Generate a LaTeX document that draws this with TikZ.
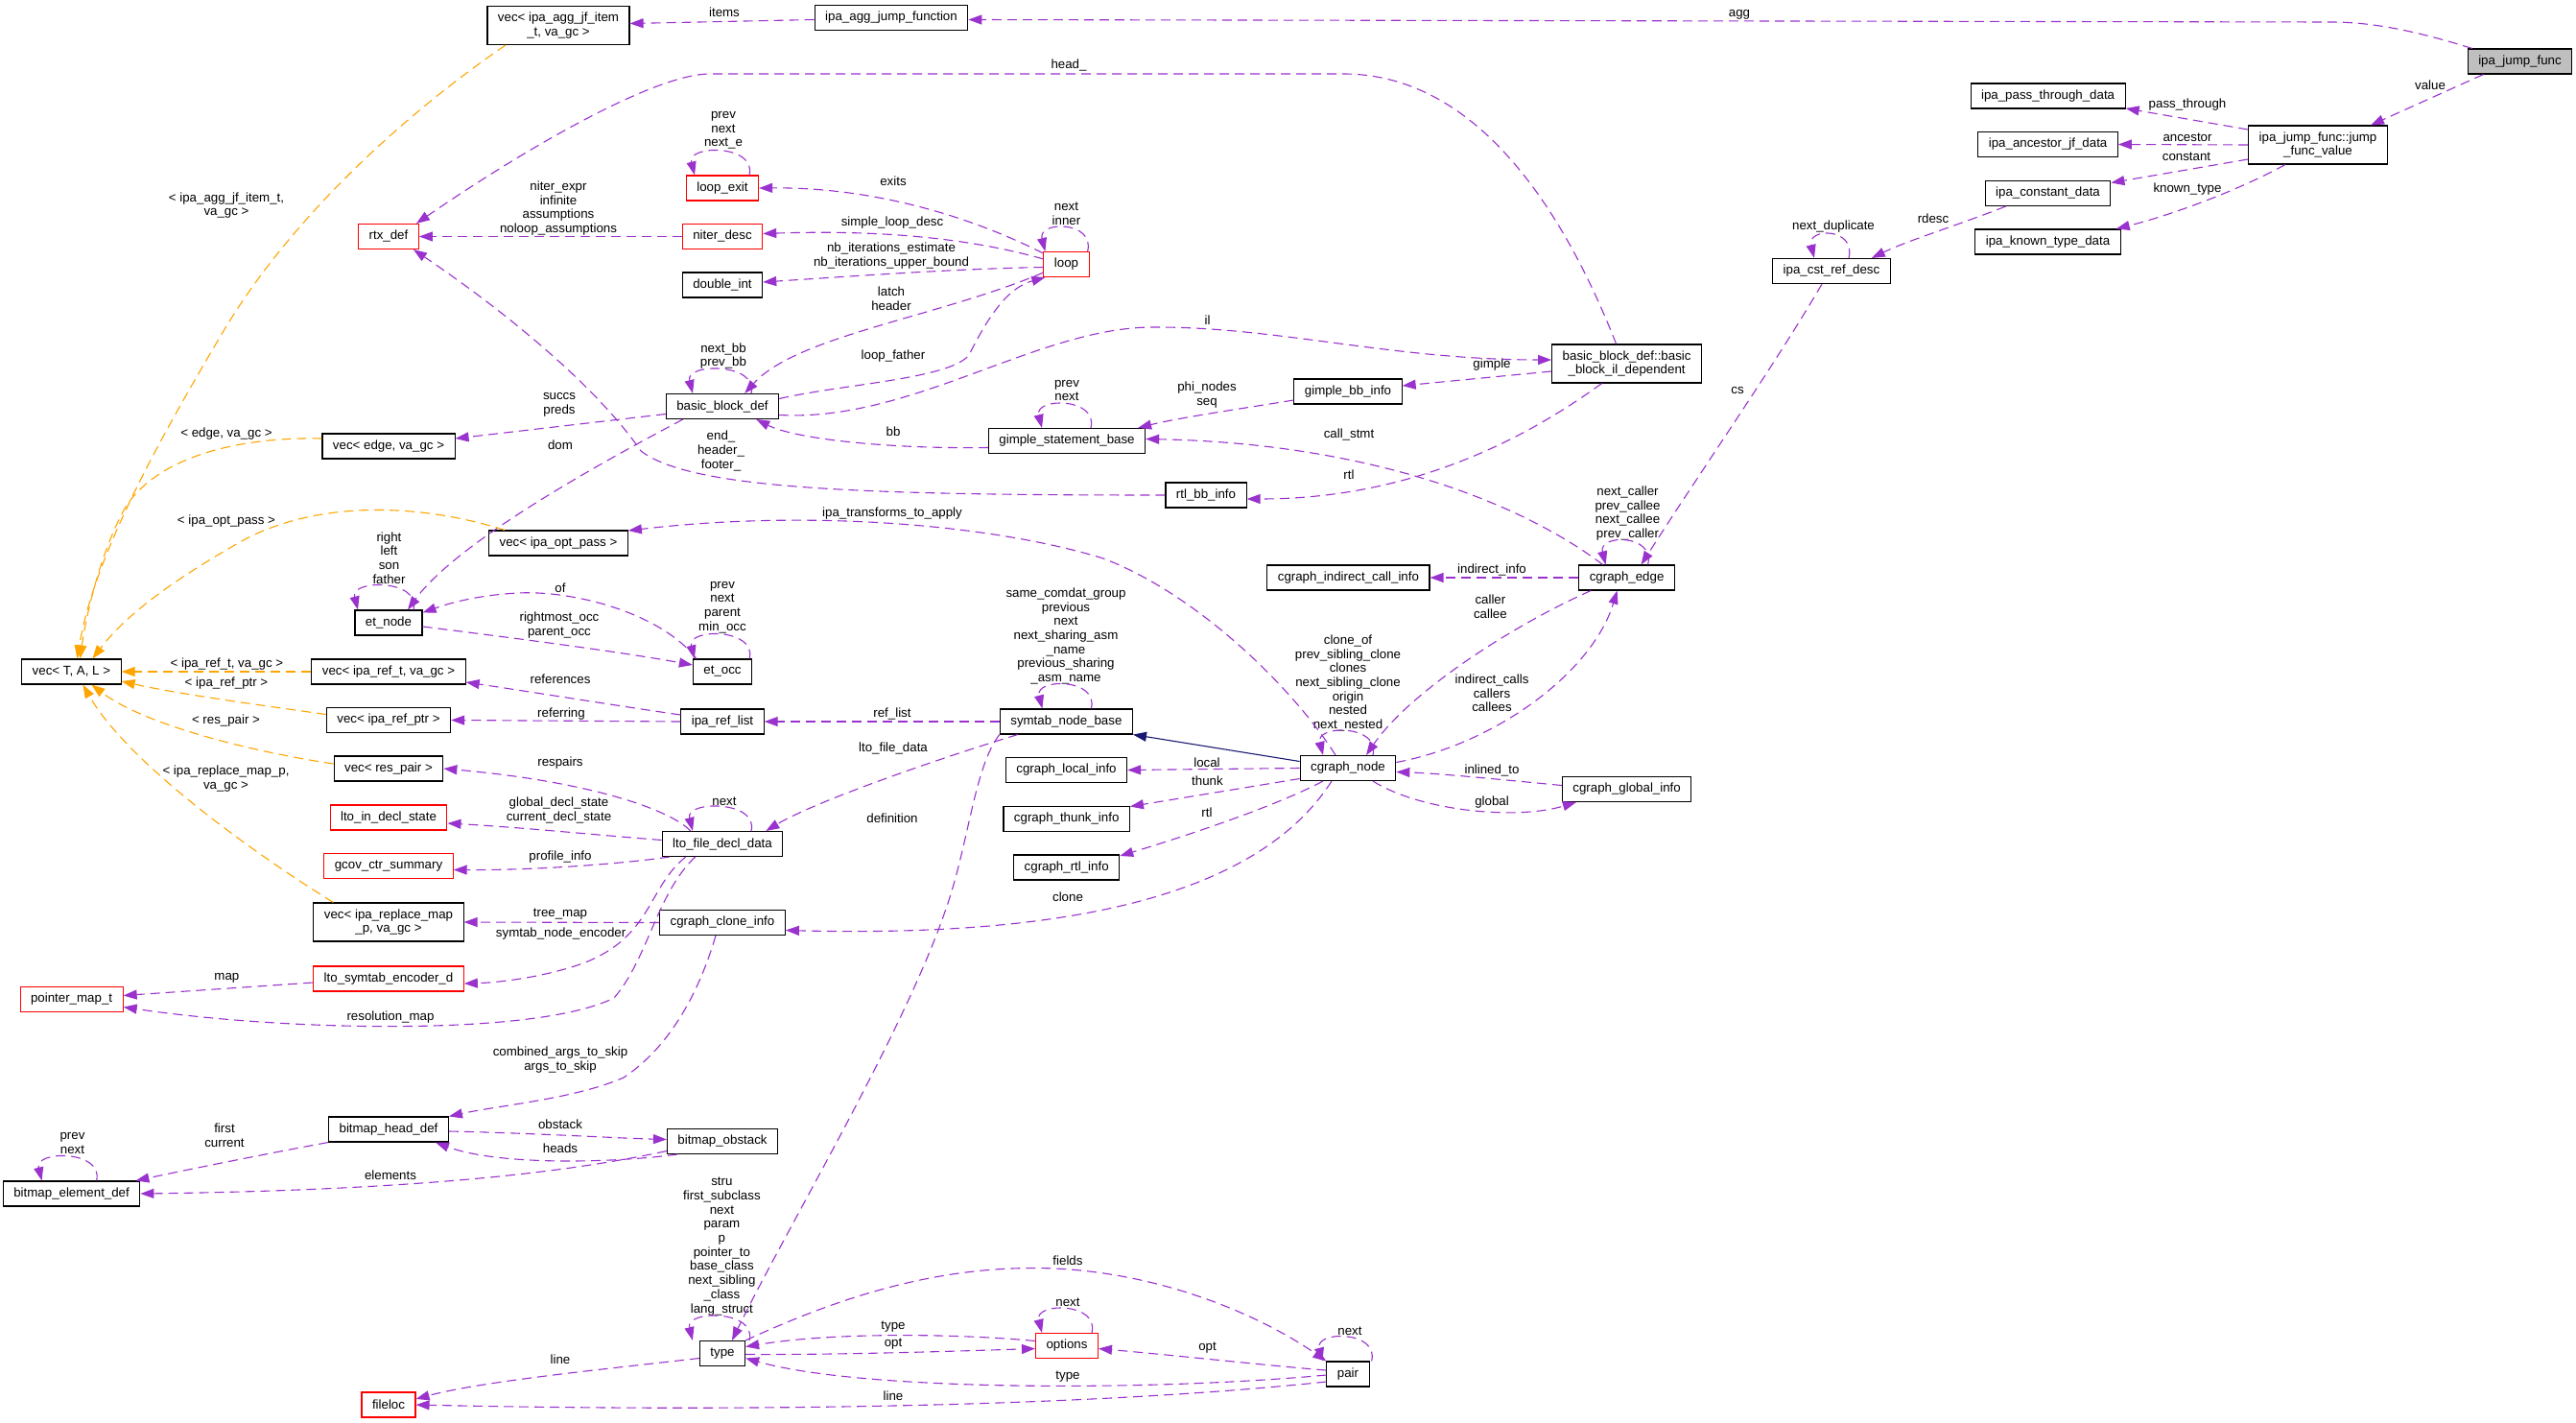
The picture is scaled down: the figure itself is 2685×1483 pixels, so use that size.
\documentclass[tikz,border=0pt]{standalone}
\usepackage{fontspec}
\setmainfont{Liberation Sans}
\usetikzlibrary{arrows.meta}
\definecolor{usecol}{RGB}{154,50,205}
\definecolor{tplcol}{RGB}{255,165,0}
\definecolor{inhcol}{RGB}{25,25,112}
\definecolor{focuscol}{RGB}{191,191,191}

\begin{document}
\begin{tikzpicture}[x=1pt,y=-1pt,>={Triangle[length=14pt,width=10pt]},
  font=\fontsize{13.3}{14.7}\selectfont,
  cls/.style={draw=black,fill=white,line width=1.1pt,minimum height=26pt,
    inner xsep=11pt,inner ysep=3pt,align=center},
  cls2/.style={cls,minimum height=40pt},
  nodoc/.style={cls,draw=red},
  focus/.style={cls,fill=focuscol},
  lbl/.style={inner sep=0pt,align=center},
  uses/.style={->,draw=usecol,line width=1.1pt,dash pattern=on 10pt off 6pt},
  tpl/.style={uses,draw=tplcol},
  inh/.style={->,draw=inhcol,line width=1.1pt}]
\useasboundingbox (0,0) rectangle (2685,1483);
% ---------- classes ----------
\node[focus] (ajf) at (2626.5,64) {ipa\_jump\_func};
\node[cls] (aggjf) at (929,18.5) {ipa\_agg\_jump\_function};
\node[cls2] (vagg) at (582,26.5) {vec< ipa\_agg\_jf\_item\\\_t, va\_gc >};
\node[cls] (vtal) at (74.4,700) {vec< T, A, L >};
\node[cls2] (jfv) at (2416,151) {ipa\_jump\_func::jump\\\_func\_value};
\node[cls] (ptd) at (2134.6,100) {ipa\_pass\_through\_data};
\node[cls] (ajd) at (2134.6,150.5) {ipa\_ancestor\_jf\_data};
\node[cls] (icd) at (2134.5,201.5) {ipa\_constant\_data};
\node[cls] (ktd) at (2134.5,252) {ipa\_known\_type\_data};
\node[cls] (crd) at (1909,282.5) {ipa\_cst\_ref\_desc};
\node[cls2] (bbil) at (1695.6,379) {basic\_block\_def::basic\\\_block\_il\_dependent};
\node[cls] (gbi) at (1405,408) {gimple\_bb\_info};
\node[cls] (rbi) at (1257,516) {rtl\_bb\_info};
\node[cls] (cicall) at (1405.4,602) {cgraph\_indirect\_call\_info};
\node[cls] (cedge) at (1695.6,602) {cgraph\_edge};
\node[cls] (cnode) at (1405,800.5) {cgraph\_node};
\node[cls] (cglob) at (1695.6,822.5) {cgraph\_global\_info};
\node[cls] (snb) at (1111.4,752) {symtab\_node\_base};
\node[cls] (cloc) at (1111.5,802.5) {cgraph\_local\_info};
\node[cls] (cthk) at (1111.7,853.5) {cgraph\_thunk\_info};
\node[cls] (crtl) at (1111.7,904) {cgraph\_rtl\_info};
\node[nodoc] (loop) at (1111.5,275.5) {loop};
\node[cls] (gsb) at (1112,459.5) {gimple\_statement\_base};
\node[nodoc] (lexit) at (753,196) {loop\_exit};
\node[nodoc] (ndesc) at (753,246.5) {niter\_desc};
\node[cls] (dint) at (753,297) {double\_int};
\node[cls] (bbd) at (753,423.5) {basic\_block\_def};
\node[cls] (etocc) at (753,700) {et\_occ};
\node[cls] (rlist) at (753,752) {ipa\_ref\_list};
\node[cls] (lfdd) at (753,879.5) {lto\_file\_decl\_data};
\node[cls] (ccinfo) at (753,961.5) {cgraph\_clone\_info};
\node[cls] (bobs) at (753,1189.5) {bitmap\_obstack};
\node[cls] (type) at (753,1410.5) {type};
\node[nodoc] (opts) at (1112,1402.5) {options};
\node[cls] (pair) at (1405,1432) {pair};
\node[nodoc] (rtx) at (405,246.5) {rtx\_def};
\node[cls] (vedge) at (405,465) {vec< edge, va\_gc >};
\node[cls] (vopt) at (582,566) {vec< ipa\_opt\_pass >};
\node[cls] (etnode) at (405,649) {et\_node};
\node[cls] (vref) at (405,700) {vec< ipa\_ref\_t, va\_gc >};
\node[cls] (vrptr) at (405,750.5) {vec< ipa\_ref\_ptr >};
\node[cls] (vres) at (405,801) {vec< res\_pair >};
\node[nodoc] (lidecl) at (405,852) {lto\_in\_decl\_state};
\node[nodoc] (gcov) at (405,902.5) {gcov\_ctr\_summary};
\node[cls2] (vrmap) at (405,961) {vec< ipa\_replace\_map\\\_p, va\_gc >};
\node[nodoc] (lsenc) at (405,1020) {lto\_symtab\_encoder\_d};
\node[nodoc] (pmap) at (74.6,1041.5) {pointer\_map\_t};
\node[cls] (bhead) at (405,1177) {bitmap\_head\_def};
\node[cls] (belem) at (74.6,1244) {bitmap\_element\_def};
\node[nodoc] (floc) at (405,1464) {fileloc};
% ---------- member labels ----------
\node[lbl] (lagg) at (1813,15) {agg};
\node[lbl] (litems) at (755,13) {items};
\node[lbl] (lvalue) at (2533,89) {value};
\node[lbl] (lpass) at (2280,109) {pass\_through};
\node[lbl] (lanc) at (2280,143) {ancestor};
\node[lbl] (lconst) at (2279,163) {constant};
\node[lbl] (lknown) at (2280,197) {known\_type};
\node[lbl] (lrdesc) at (2015,228) {rdesc};
\node[lbl] (ldup) at (1911,236) {next\_duplicate};
\node[lbl] (lcs) at (1811,407) {cs};
\node[lbl] (lhead) at (1114,68) {head\_};
\node[lbl] (ltagg) at (236,214) {< ipa\_agg\_jf\_item\_t,\\va\_gc >};
\node[lbl] (lexitl) at (754,136) {prev\\next\\next\_e};
\node[lbl] (lexits) at (931,189) {exits};
\node[lbl] (lsld) at (930,232) {simple\_loop\_desc};
\node[lbl] (lnbit) at (929,266.5) {nb\_iterations\_estimate\\nb\_iterations\_upper\_bound};
\node[lbl] (lloopl) at (1111.5,223) {next\\inner};
\node[lbl] (lniter) at (582,217) {niter\_expr\\infinite\\assumptions\\noloop\_assumptions};
\node[lbl] (llatch) at (929,311) {latch\\header};
\node[lbl] (lil) at (1258.5,334) {il};
\node[lbl] (lfather) at (931,371) {loop\_father};
\node[lbl] (lbbl) at (754,371) {next\_bb\\prev\_bb};
\node[lbl] (lgimple) at (1555,380) {gimple};
\node[lbl] (lgsbl) at (1112,407) {prev\\next};
\node[lbl] (lphi) at (1258,411.5) {phi\_nodes\\seq};
\node[lbl] (lsuccs) at (583,422) {succs\\preds};
\node[lbl] (ltedge) at (236,452) {< edge, va\_gc >};
\node[lbl] (lbb) at (931,450) {bb};
\node[lbl] (lcall) at (1406,453) {call\_stmt};
\node[lbl] (ldom) at (584,464) {dom};
\node[lbl] (lend) at (751.5,470) {end\_\\header\_\\footer\_};
\node[lbl] (lrtl) at (1406,495) {rtl};
\node[lbl] (lipat) at (930,535) {ipa\_transforms\_to\_apply};
\node[lbl] (ledgel) at (1696.5,535) {next\_caller\\prev\_callee\\next\_callee\\prev\_caller};
\node[lbl] (ltopt) at (236,543) {< ipa\_opt\_pass >};
\node[lbl] (letl) at (405.5,581.5) {right\\left\\son\\father};
\node[lbl] (lind) at (1555,594) {indirect\_info};
\node[lbl] (lof) at (584,613) {of};
\node[lbl] (lcaller) at (1553.4,632.5) {caller\\callee};
\node[lbl] (loccl) at (753,633) {prev\\next\\parent\\min\_occ};
\node[lbl] (lrmost) at (583,651.5) {rightmost\_occ\\parent\_occ};
\node[lbl] (lsnbl) at (1111,663) {same\_comdat\_group\\previous\\next\\next\_sharing\_asm\\\_name\\previous\_sharing\\\_asm\_name};
\node[lbl] (ltref) at (236.4,692) {< ipa\_ref\_t, va\_gc >};
\node[lbl] (lrefs) at (584,708) {references};
\node[lbl] (ltptr) at (236,712) {< ipa\_ref\_ptr >};
\node[lbl] (lcnodel) at (1405,712) {clone\_of\\prev\_sibling\_clone\\clones\\next\_sibling\_clone\\origin\\nested\\next\_nested};
\node[lbl] (lcalls) at (1555,722.5) {indirect\_calls\\callers\\callees};
\node[lbl] (lreferring) at (585,744) {referring};
\node[lbl] (lreflist) at (930,744) {ref\_list};
\node[lbl] (ltres) at (235.5,751) {< res\_pair >};
\node[lbl] (llto) at (931,780) {lto\_file\_data};
\node[lbl] (lresp) at (584,795) {respairs};
\node[lbl] (llocal) at (1258,795) {local};
\node[lbl] (linl) at (1555,803) {inlined\_to};
\node[lbl] (ltrmap) at (235.5,811.5) {< ipa\_replace\_map\_p,\\va\_gc >};
\node[lbl] (lthunk) at (1258.5,814) {thunk};
\node[lbl] (lfdl) at (755,835) {next};
\node[lbl] (lglobal) at (1555,836) {global};
\node[lbl] (ldecl) at (582.5,844.5) {global\_decl\_state\\current\_decl\_state};
\node[lbl] (lrtl2) at (1258,847) {rtl};
\node[lbl] (ldef) at (930,853) {definition};
\node[lbl] (lprof) at (584,893) {profile\_info};
\node[lbl] (lclone) at (1113,935) {clone};
\node[lbl] (ltree) at (584,953) {tree\_map};
\node[lbl] (lenc) at (584.6,973) {symtab\_node\_encoder};
\node[lbl] (lmap) at (236.4,1019) {map};
\node[lbl] (lres) at (407,1060) {resolution\_map};
\node[lbl] (lskip) at (584,1104.5) {combined\_args\_to\_skip\\args\_to\_skip};
\node[lbl] (lobst) at (584,1172) {obstack};
\node[lbl] (lfirst) at (234,1183.5) {first\\current};
\node[lbl] (lbel) at (75.5,1191.5) {prev\\next};
\node[lbl] (lheads) at (584,1197) {heads};
\node[lbl] (lelems) at (407,1225) {elements};
\node[lbl] (ltypel) at (752.4,1299) {stru\\first\_subclass\\next\\param\\p\\pointer\_to\\base\_class\\next\_sibling\\\_class\\lang\_struct};
\node[lbl] (lfields) at (1113,1314) {fields};
\node[lbl] (loptl) at (1113,1357) {next};
\node[lbl] (ltype1) at (931,1383) {type};
\node[lbl] (lopt1) at (931,1401) {opt};
\node[lbl] (lopt2) at (1258.5,1405) {opt};
\node[lbl] (lpairl) at (1407,1387) {next};
\node[lbl] (lline1) at (584,1417) {line};
\node[lbl] (ltype2) at (1113,1435) {type};
\node[lbl] (lline2) at (931,1455) {line};
% ---------- jump function ----------
\draw[uses] ([xshift=5pt]ajf.north west) .. controls (2530,36) and (2480,23) .. (2430,23) -- ([yshift=-2pt]aggjf.east);
\draw[uses] ([yshift=-2pt]aggjf.west) -- ([yshift=2pt]vagg.east);
\draw[tpl] ([xshift=-55pt]vagg.south) .. controls (420,120) and (300,230) .. (230,350) .. controls (165,460) and (98,580) .. ([xshift=6pt]vtal.north);
\draw[uses] ([xshift=-38pt]ajf.south) -- ([xshift=55pt]jfv.north);
\draw[uses] ([yshift=16pt]jfv.west) -- ([yshift=-13pt]ptd.east);
\draw[uses] (jfv.west) -- (ajd.east);
\draw[uses] ([yshift=-15pt]jfv.west) -- ([yshift=11pt]icd.east);
\draw[uses] ([xshift=-34pt]jfv.south) .. controls (2330,200) and (2260,225) .. ([xshift=-5pt]ktd.north east);
\draw[uses] ([xshift=22pt]icd.south west) .. controls (2040,235) and (1990,250) .. ([xshift=-20pt]crd.north east);
\draw[uses] ([xshift=18pt]crd.north) .. controls +(8,-32) and +(-8,-32) .. ([xshift=-18pt]crd.north);
\draw[uses] ([xshift=-10pt]crd.south) .. controls (1850,380) and (1780,480) .. ([xshift=15pt]cedge.north);
% ---------- basic blocks and loops ----------
\draw[uses] ([xshift=-11pt]bbil.north) .. controls (1630,220) and (1540,77) .. (1400,77) -- (740,77) .. controls (680,77) and (540,160) .. ([xshift=-3pt]rtx.north east);
\draw[uses] ([yshift=-9pt]bbd.east) .. controls (950,440) and (1080,342) .. (1200,341) .. controls (1330,340) and (1450,375) .. ([yshift=4pt]bbil.west);
\draw[uses] ([yshift=-8pt]bbil.west) -- ([yshift=6pt]gbi.east);
\draw[uses] ([xshift=-26pt]bbil.south) .. controls (1600,450) and (1480,520) .. ([yshift=-4pt]rbi.east);
\draw[uses] ([yshift=-9pt]gbi.west) .. controls (1300,425) and (1230,435) .. ([xshift=-8pt]gsb.north east);
\draw[uses] ([xshift=-25pt]cedge.north) .. controls (1580,520) and (1420,462) .. ([yshift=2pt]gsb.east);
\draw[uses] ([yshift=-7pt]gsb.west) .. controls (930,468) and (830,458) .. ([xshift=-24pt]bbd.south east);
\draw[uses] ([xshift=25pt]gsb.north) .. controls +(8,-32) and +(-8,-32) .. ([xshift=-26pt]gsb.north);
\draw[uses] ([xshift=30pt]bbd.north) .. controls +(8,-32) and +(-8,-32) .. ([xshift=-31pt]bbd.north);
\draw[uses] ([yshift=8pt]bbd.east) .. controls (880,400) and (990,395) .. (1010,370) .. controls (1030,330) and (1050,300) .. ([xshift=2pt]loop.south west);
\draw[uses] ([yshift=5pt]loop.south west) .. controls (980,330) and (830,350) .. ([xshift=-36pt]bbd.north east);
\draw[uses] ([yshift=-2pt]loop.north west) .. controls (1000,220) and (900,195) .. (lexit.east);
\draw[uses] ([yshift=-8pt]loop.north west) .. controls (1000,245) and (900,240) .. ([yshift=3pt]ndesc.east);
\draw[uses] ([yshift=-3pt]loop.west) .. controls (1000,280) and (900,287) .. ([yshift=3pt]dint.east);
\draw[uses] ([xshift=-2pt]loop.north east) .. controls +(8,-32) and +(-8,-32) .. ([xshift=2pt]loop.north west);
\draw[uses] ([xshift=28pt]lexit.north) .. controls +(8,-32) and +(-8,-32) .. ([xshift=-29pt]lexit.north);
\draw[uses] (ndesc.west) -- (rtx.east);
\draw[uses] (rbi.west) .. controls (900,516) and (720,510) .. (668,470) .. controls (620,400) and (520,320) .. ([xshift=-6pt]rtx.south east);
\draw[uses] ([yshift=-8pt]bbd.west) -- ([yshift=8pt]vedge.east);
\draw[uses] ([xshift=18pt]bbd.south west) .. controls (650,470) and (480,560) .. ([xshift=20pt]etnode.north);
% ---------- vec templates ----------
\draw[tpl] ([yshift=8pt]vedge.west) .. controls (240,455) and (160,480) .. (130,530) .. controls (105,575) and (90,640) .. ([xshift=9pt]vtal.north);
\draw[tpl] ([xshift=17pt]vopt.north west) .. controls (440,525) and (330,520) .. (250,565) .. controls (180,605) and (132,640) .. ([xshift=22pt]vtal.north);
\draw[tpl] (vref.west) -- (vtal.east);
\draw[tpl] ([yshift=6pt]vrptr.west) .. controls (250,732) and (180,722) .. ([yshift=-10pt]vtal.east);
\draw[tpl] ([yshift=5pt]vres.west) .. controls (260,783) and (150,755) .. ([xshift=21pt]vtal.south);
\draw[tpl] ([xshift=21pt]vrmap.north west) .. controls (250,880) and (130,790) .. ([xshift=12pt]vtal.south);
% ---------- et tree ----------
\draw[uses] ([xshift=26pt]etnode.north) .. controls +(8,-32) and +(-8,-32) .. ([xshift=-32pt]etnode.north);
\draw[uses] ([xshift=4pt]etocc.north west) .. controls (690,640) and (600,615) .. (540,618) .. controls (500,620) and (470,628) .. ([yshift=-3pt]etnode.north east);
\draw[uses] ([yshift=-4pt]etnode.east) .. controls (560,668) and (650,680) .. ([yshift=7pt]etocc.west);
\draw[uses] ([xshift=-3pt]etocc.north east) .. controls +(8,-32) and +(-8,-32) .. ([xshift=2pt]etocc.north west);
% ---------- symtab ----------
\draw[uses] ([xshift=26pt]snb.north) .. controls +(8,-32) and +(-8,-32) .. ([xshift=-25pt]snb.north);
\draw[uses] (snb.west) -- (rlist.east);
\draw[uses] ([xshift=19pt]snb.south west) .. controls (980,790) and (850,835) .. ([xshift=-18pt]lfdd.north east);
\draw[uses] (snb.south west) .. controls (1015,800) and (1010,880) .. (985,950) .. controls (940,1080) and (820,1280) .. ([xshift=10pt]type.north);
\draw[uses] ([yshift=7pt]rlist.west) .. controls (640,735) and (560,722) .. ([yshift=-11pt]vref.east);
\draw[uses] (rlist.west) -- (vrptr.east);
% ---------- lto ----------
\draw[uses] ([xshift=30pt]lfdd.north west) .. controls (700,845) and (620,815) .. (vres.east);
\draw[uses] ([yshift=4pt]lfdd.west) .. controls (620,870) and (540,862) .. ([yshift=-6pt]lidecl.east);
\draw[uses] ([xshift=8pt]lfdd.south west) .. controls (650,900) and (560,907) .. ([yshift=-4pt]gcov.east);
\draw[uses] ([xshift=30pt]lfdd.north) .. controls +(8,-32) and +(-8,-32) .. ([xshift=-31pt]lfdd.north);
\draw[uses] ([xshift=25pt]lfdd.south west) .. controls (675,925) and (680,975) .. (610,1003) .. controls (570,1018) and (520,1024) .. ([yshift=-5pt]lsenc.east);
\draw[uses] ([xshift=35pt]lfdd.south west) .. controls (685,930) and (675,1000) .. (640,1040) .. controls (560,1080) and (300,1075) .. ([yshift=-8pt]pmap.east);
\draw[uses] ([yshift=-4pt]lsenc.west) -- ([yshift=4pt]pmap.east);
% ---------- cgraph ----------
\draw[uses] ([xshift=22pt]cedge.north) .. controls +(8,-32) and +(-8,-32) .. ([xshift=-22pt]cedge.north);
\draw[uses] (cedge.west) -- (cicall.east);
\draw[uses] ([xshift=13pt]cedge.south west) .. controls (1580,650) and (1470,720) .. ([xshift=19pt]cnode.north);
\draw[uses] ([yshift=6pt]cnode.east) .. controls (1560,775) and (1660,700) .. ([xshift=-10pt]cedge.south);
\draw[uses] ([xshift=26pt]cnode.north) .. controls +(8,-32) and +(-8,-32) .. ([xshift=-26pt]cnode.north);
\draw[uses] ([yshift=4pt]cglob.west) .. controls (1560,812) and (1500,806) .. ([yshift=-4pt]cnode.east);
\draw[uses] ([xshift=26pt]cnode.south) .. controls (1480,845) and (1580,855) .. ([xshift=15pt]cglob.south west);
\draw[inh] ([yshift=7pt]cnode.west) -- (snb.south east);
\draw[uses] (cnode.west) -- (cloc.east);
\draw[uses] ([yshift=-11pt]cnode.west) -- ([yshift=13pt]cthk.east);
\draw[uses] ([xshift=-26pt]cnode.south) .. controls (1330,840) and (1240,870) .. ([yshift=12pt]crtl.east);
\draw[uses] ([xshift=-17pt]cnode.south) .. controls (1320,920) and (1150,978) .. ([yshift=-8pt]ccinfo.east);
\draw[uses] ([xshift=-13pt]cnode.north) .. controls (1350,720) and (1250,620) .. (1150,582) .. controls (1040,548) and (850,530) .. ([yshift=13pt]vopt.east);
\draw[uses] (ccinfo.west) -- (vrmap.east);
\draw[uses] ([xshift=-7pt]ccinfo.south) .. controls (730,1030) and (700,1090) .. (650,1123) .. controls (600,1145) and (520,1152) .. (bhead.north east);
% ---------- bitmaps ----------
\draw[uses] ([yshift=-2pt]bhead.east) .. controls (560,1181) and (640,1186) .. ([yshift=2pt]bobs.west);
\draw[uses] ([xshift=11pt]bobs.south west) .. controls (640,1212) and (520,1215) .. ([xshift=-14pt]bhead.south east);
\draw[uses] ([yshift=-10pt]bobs.west) .. controls (600,1220) and (450,1240) .. (belem.east);
\draw[uses] (bhead.south west) .. controls (290,1200) and (200,1218) .. ([xshift=-5pt]belem.north east);
\draw[uses] ([xshift=26pt]belem.north) .. controls +(8,-32) and +(-8,-32) .. ([xshift=-31pt]belem.north);
% ---------- gengtype ----------
\draw[uses] ([xshift=4pt]type.north east) .. controls +(8,-32) and +(-8,-32) .. ([xshift=-7pt]type.north west);
\draw[uses] ([yshift=-1pt]type.east) .. controls (880,1412) and (1000,1408) .. ([yshift=-3pt]opts.west);
\draw[uses] ([yshift=5pt]opts.west) .. controls (1000,1390) and (870,1388) .. ([yshift=7pt]type.east);
\draw[uses] ([xshift=26pt]opts.north) .. controls +(8,-32) and +(-8,-32) .. ([xshift=-26pt]opts.north);
\draw[uses] ([yshift=4pt]pair.west) .. controls (1330,1424) and (1220,1412) .. ([yshift=-3pt]opts.east);
\draw[uses] ([yshift=-1pt]pair.west) .. controls (1200,1450) and (900,1450) .. ([yshift=-5pt]type.east);
\draw[uses] ([yshift=-8pt]pair.west) .. controls (1100,1470) and (700,1470) .. (floc.east);
\draw[uses] ([yshift=-5pt]type.west) .. controls (620,1428) and (500,1440) .. ([yshift=6pt]floc.east);
\draw[uses] (type.north east) .. controls (900,1340) and (1000,1318) .. (1100,1322) .. controls (1220,1328) and (1320,1375) .. (pair.north west);
\draw[uses] ([xshift=2pt]pair.north east) .. controls +(8,-32) and +(-8,-32) .. ([xshift=-4pt]pair.north west);
\end{tikzpicture}
\end{document}
